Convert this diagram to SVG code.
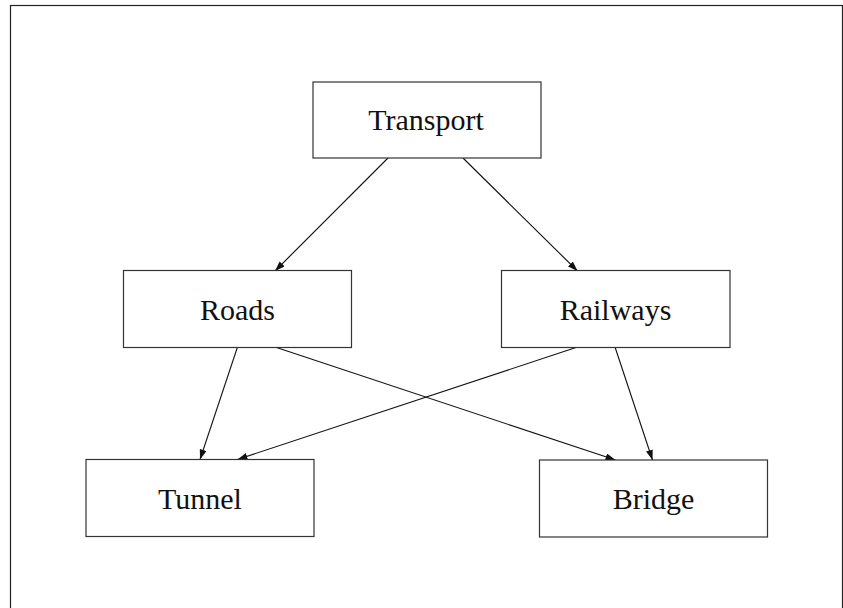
<svg xmlns="http://www.w3.org/2000/svg" width="843" height="608" viewBox="0 0 843 608">
  <style>
    .frame { fill: none; stroke: #222; stroke-width: 1.2; }
    .box { fill: #fff; stroke: #333; stroke-width: 1.2; }
    .label { font-family: "Liberation Serif", "Times New Roman", serif; font-size: 30px; fill: #111; text-anchor: middle; }
    .edge { fill: none; stroke: #111; stroke-width: 1.1; marker-end: url(#arrow); }
  </style>
  <defs>
    <marker id="arrow" markerUnits="userSpaceOnUse" markerWidth="11" markerHeight="8" refX="10" refY="3.5" orient="auto">
      <path d="M0,0 L10,3.5 L0,7 z" fill="#111"/>
    </marker>
  </defs>
  <rect width="843" height="608" fill="#fff"/>
  <rect class="frame" x="10.5" y="5.5" width="832" height="640"/>

  <g id="connectors">
    <line class="edge" x1="388" y1="158" x2="275" y2="271"/>
    <line class="edge" x1="463" y1="158" x2="577.5" y2="271"/>
    <line class="edge" x1="237.5" y1="347" x2="200" y2="459.5"/>
    <line class="edge" x1="275" y1="347" x2="615.5" y2="460"/>
    <line class="edge" x1="577.5" y1="347" x2="237.5" y2="459.5"/>
    <line class="edge" x1="615" y1="347" x2="652.5" y2="460"/>
  </g>

  <g id="transport">
    <rect class="box" x="313" y="82" width="228" height="76"/>
    <text class="label" x="426" y="130">Transport</text>
  </g>
  <g id="roads">
    <rect class="box" x="123.5" y="270.5" width="228" height="77"/>
    <text class="label" x="237.5" y="320">Roads</text>
  </g>
  <g id="railways">
    <rect class="box" x="501.5" y="270.5" width="228.5" height="77"/>
    <text class="label" x="615.5" y="320">Railways</text>
  </g>
  <g id="tunnel">
    <rect class="box" x="86" y="459.5" width="228" height="77"/>
    <text class="label" x="200" y="509">Tunnel</text>
  </g>
  <g id="bridge">
    <rect class="box" x="539.5" y="460" width="228" height="77"/>
    <text class="label" x="653.5" y="509">Bridge</text>
  </g>
</svg>
